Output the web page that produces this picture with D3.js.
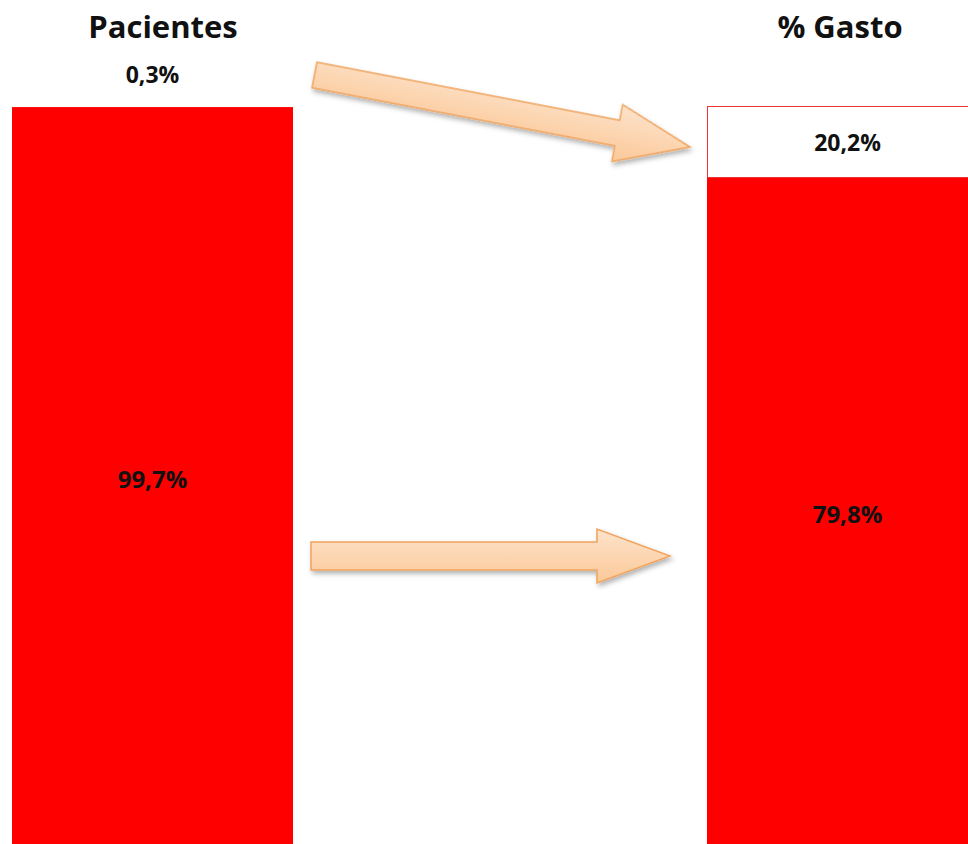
<!DOCTYPE html>
<html>
<head>
<meta charset="utf-8">
<script src="https://cdn.jsdelivr.net/npm/d3@7"></script>
<style>
  body { margin: 0; background: #fff; }
  svg { display: block; }
</style>
</head>
<body>
<div id="chart"></div>
<script>
// data
let categories = ["Pacientes", "% Gasto"];
let topValues = [0.3, 20.2];      // small group (white segment)
let bottomValues = [99.7, 79.8];  // rest (red segment)
let topLabels = ["0,3%", "20,2%"];
let bottomLabels = ["99,7%", "79,8%"];

let width = 968, height = 844;

let svg = d3.select("#chart")
  .append("svg")
  .attr("width", width)
  .attr("height", height);

// x scale: two bars, the right one runs off the edge
let x = d3.scaleBand()
  .domain(categories)
  .range([12, 988])
  .paddingInner(414 / 695)
  .paddingOuter(0);

// y scale with a break so the small top segment stays readable
let y = d3.scaleLinear()
  .domain([0, 79.8, 100])
  .range([850, 178, 106]);

let defs = svg.append("defs");
let grad = defs.append("linearGradient")
  .attr("id", "arrowGrad")
  .attr("x1", 0).attr("y1", 0).attr("x2", 0).attr("y2", 1);
grad.append("stop").attr("offset", "0%").attr("stop-color", "#fde3cb");
grad.append("stop").attr("offset", "100%").attr("stop-color", "#fbc898");

let shadow = defs.append("filter").attr("id", "shadow")
  .attr("x", "-10%").attr("y", "-30%").attr("width", "130%").attr("height", "180%");
shadow.append("feDropShadow")
  .attr("dx", 2).attr("dy", 3).attr("stdDeviation", 2.5)
  .attr("flood-color", "#000").attr("flood-opacity", 0.3);

// bars
let bars = svg.append("g").selectAll("g")
  .data(categories)
  .join("g");

// red segment (bottom)
bars.append("rect")
  .attr("x", d => x(d))
  .attr("y", (d, i) => y(bottomValues[i]))
  .attr("width", x.bandwidth())
  .attr("height", (d, i) => y(0) - y(bottomValues[i]))
  .attr("fill", "#ff0000");

// white segment (top), only outlined when tall enough to see
bars.append("rect")
  .attr("x", (d) => x(d) + 0.5)
  .attr("y", (d, i) => y(bottomValues[i] + topValues[i]) + 0.5)
  .attr("width", x.bandwidth() - 1)
  .attr("height", (d, i) => Math.max(0, y(bottomValues[i]) - y(bottomValues[i] + topValues[i]) - 1))
  .attr("fill", "#fff")
  .attr("stroke", (d, i) => topValues[i] > 5 ? "#ee3333" : "none")
  .attr("stroke-width", 1);

// titles
svg.append("g").selectAll("text")
  .data(categories)
  .join("text")
  .attr("x", (d, i) => x(d) + x.bandwidth() / 2 + (i == 0 ? 10.5 : -7.5))
  .attr("y", 38)
  .attr("text-anchor", "middle")
  .style("font-family", "'Open Sans', sans-serif")
  .style("font-weight", "bold")
  .style("font-size", "31px")
  .attr("fill", "#111")
  .text(d => d);

// top labels: inside if segment is big, above bar otherwise
svg.append("g").selectAll("text")
  .data(categories)
  .join("text")
  .attr("x", d => x(d) + x.bandwidth() / 2)
  .attr("y", (d, i) => {
    let y0 = y(bottomValues[i]), y1 = y(bottomValues[i] + topValues[i]);
    return topValues[i] > 5 ? (y0 + y1) / 2 + 9 : y1 - 23;
  })
  .attr("text-anchor", "middle")
  .style("font-family", "'Open Sans', sans-serif")
  .style("font-weight", "bold")
  .style("font-size", "23px")
  .attr("fill", "#111")
  .text((d, i) => topLabels[i]);

// bottom labels centred in red segment
svg.append("g").selectAll("text")
  .data(categories)
  .join("text")
  .attr("x", d => x(d) + x.bandwidth() / 2)
  .attr("y", (d, i) => (y(0) + y(bottomValues[i])) / 2 + 9)
  .attr("text-anchor", "middle")
  .style("font-family", "'Open Sans', sans-serif")
  .style("font-weight", "bold")
  .style("font-size", "24px")
  .attr("fill", "#111")
  .text((d, i) => bottomLabels[i]);

// block arrows (decoration)
function arrowPath(len, shaft, headLen, headHalf) {
  return "M0," + (-shaft) +
    "L" + (len - headLen) + "," + (-shaft) +
    "L" + (len - headLen) + "," + (-headHalf) +
    "L" + len + ",0" +
    "L" + (len - headLen) + "," + headHalf +
    "L" + (len - headLen) + "," + shaft +
    "L0," + shaft + "Z";
}

let arrows = [
  { x0: 314.5, y0: 75, x1: 690, y1: 147, shaft: 13, headLen: 74, headHalf: 29 },
  { x0: 311, y0: 556, x1: 670, y1: 556, shaft: 14, headLen: 73, headHalf: 27 }
];

svg.append("g").selectAll("path")
  .data(arrows)
  .join("path")
  .attr("transform", d => {
    let ang = Math.atan2(d.y1 - d.y0, d.x1 - d.x0) * 180 / Math.PI;
    return "translate(" + d.x0 + "," + d.y0 + ") rotate(" + ang + ")";
  })
  .attr("d", d => arrowPath(Math.hypot(d.x1 - d.x0, d.y1 - d.y0), d.shaft, d.headLen, d.headHalf))
  .attr("fill", "url(#arrowGrad)")
  .attr("stroke", "#f0a45e")
  .attr("stroke-width", 1.5)
  .attr("stroke-linejoin", "miter")
  .attr("filter", "url(#shadow)");
</script>
</body>
</html>
